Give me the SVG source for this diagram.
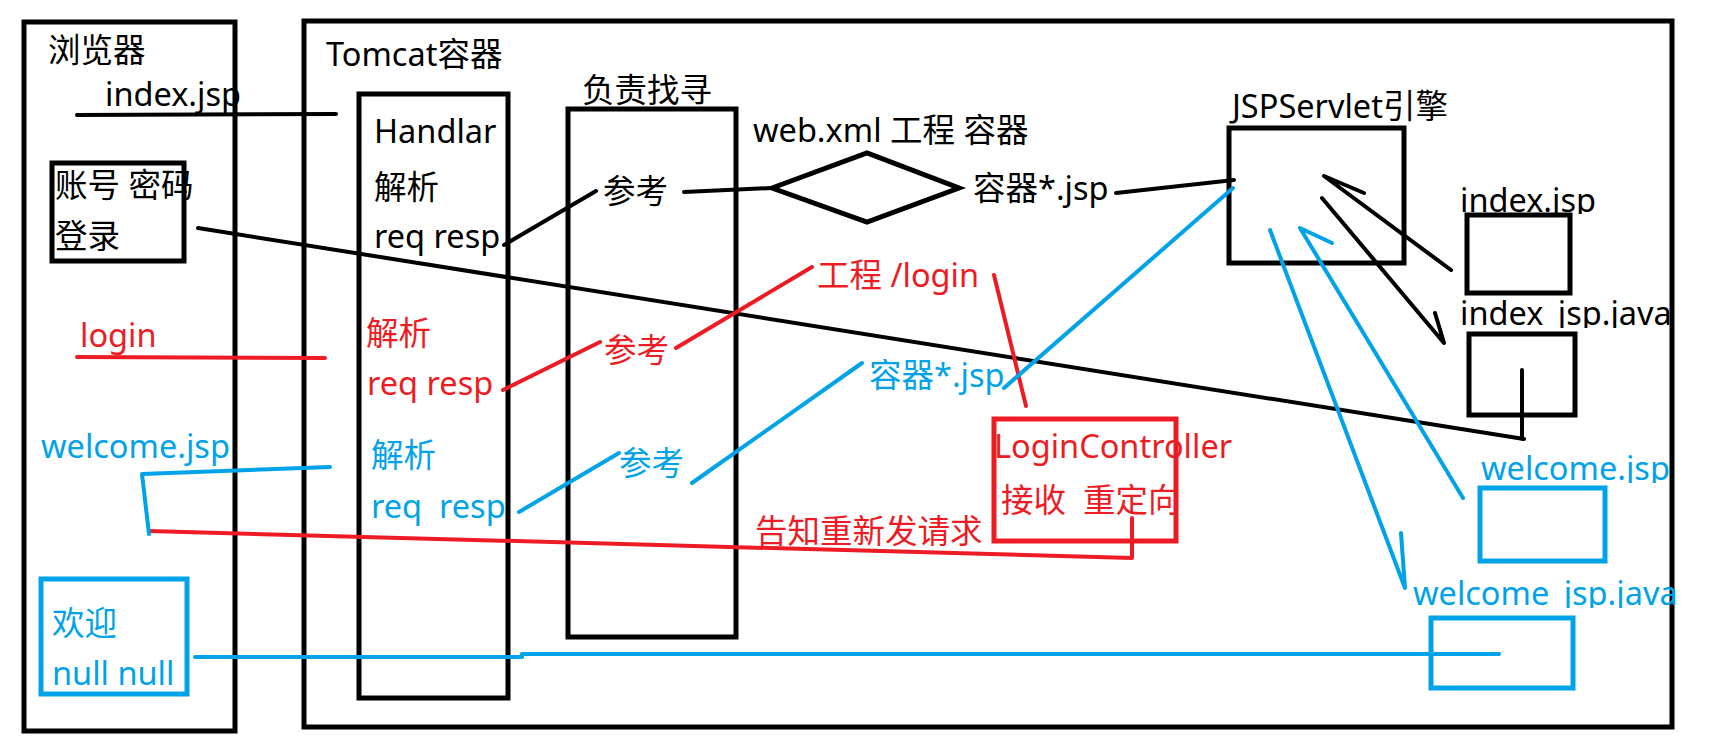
<svg xmlns="http://www.w3.org/2000/svg" width="1709" height="749" viewBox="0 0 1709 749">
<style>
text{font-family:"Noto Sans","Noto Sans CJK SC",sans-serif;font-size:32.5px}
.k{fill:#000}.r{fill:#ED1C24}.b{fill:#00A2E8}
.bx{fill:none;stroke:#000;stroke-width:5}
.rb{fill:none;stroke:#ED1C24;stroke-width:5}
.bb{fill:none;stroke:#00A2E8;stroke-width:5}
.lk{fill:none;stroke:#000;stroke-width:4;stroke-linecap:round;stroke-linejoin:round}
.lr{fill:none;stroke:#ED1C24;stroke-width:4;stroke-linecap:round;stroke-linejoin:round}
.lb{fill:none;stroke:#00A2E8;stroke-width:4;stroke-linecap:round;stroke-linejoin:round}
</style>
<defs>
<clipPath id="c1"><rect x="1400" y="180" width="300" height="34"/></clipPath>
<clipPath id="c2"><rect x="1400" y="290" width="300" height="38"/></clipPath>
<clipPath id="c3"><rect x="1400" y="440" width="300" height="43"/></clipPath>
<clipPath id="c4"><rect x="1380" y="570" width="320" height="38"/></clipPath>
</defs>
<rect width="1709" height="749" fill="#fff"/>

<g id="browser">
<rect class="bx" x="24" y="22" width="211" height="709"/>
<text class="k" x="48" y="62">浏览器</text>
<text class="k" x="105" y="106">index.jsp</text>
</g>
<g id="login-form">
<rect class="bx" x="52" y="163" width="132" height="98"/>
<text class="k" x="55" y="197">账号 密码</text>
<text class="k" x="55" y="248">登录</text>
</g>
<text class="r" x="80" y="347">login</text>
<text class="b" x="41" y="458">welcome.jsp</text>
<g id="welcome-page">
<rect class="bb" x="41" y="579" width="146" height="115"/>
<text class="b" x="52" y="635">欢迎</text>
<text class="b" x="52" y="685">null null</text>
</g>

<g id="tomcat">
<rect class="bx" x="304" y="21" width="1368" height="706"/>
<text class="k" x="326" y="66">Tomcat容器</text>
</g>
<g id="handlar">
<rect class="bx" x="359" y="94" width="149" height="604"/>
<text class="k" x="374" y="143">Handlar</text>
<text class="k" x="374" y="199">解析</text>
<text class="k" x="374" y="248">req resp</text>
<text class="r" x="366" y="345">解析</text>
<text class="r" x="367" y="395">req resp</text>
<text class="b" x="371" y="467">解析</text>
<text class="b" x="371" y="518" xml:space="preserve">req  resp</text>
</g>
<g id="finder">
<text class="k" x="582" y="102">负责找寻</text>
<rect class="bx" x="568" y="109" width="168" height="528"/>
<text class="k" x="603" y="203">参考</text>
<text class="r" x="604" y="362">参考</text>
<text class="b" x="619" y="475">参考</text>
</g>
<g id="webxml">
<text class="k" x="753" y="142">web.xml 工程 容器</text>
<polygon class="bx" points="772,188 867,153 959,188 867,222"/>
</g>
<text class="k" x="973" y="200">容器*.jsp</text>
<text class="r" x="817" y="287">工程 /login</text>
<text class="b" x="869" y="387">容器*.jsp</text>
<text class="r" x="755" y="543">告知重新发请求</text>
<g id="login-controller">
<rect class="rb" x="994" y="419" width="182" height="122"/>
<text class="r" x="994" y="458">LoginController</text>
<text class="r" x="1001" y="512" xml:space="preserve">接收  重定向</text>
</g>
<g id="jsp-engine">
<text class="k" x="1232" y="118">JSPServlet引擎</text>
<rect class="bx" x="1229" y="128" width="175" height="135"/>
</g>
<g id="index-jsp">
<text class="k" x="1460" y="212" clip-path="url(#c1)">index.jsp</text>
<rect class="bx" x="1467" y="215" width="103" height="78"/>
</g>
<g id="index-jsp-java">
<text class="k" x="1460" y="325" clip-path="url(#c2)">index_jsp.java</text>
<rect class="bx" x="1469" y="334" width="106" height="81"/>
</g>
<g id="welcome-jsp">
<text class="b" x="1481" y="480" clip-path="url(#c3)">welcome.jsp</text>
<rect class="bb" x="1480" y="488" width="125" height="73"/>
</g>
<g id="welcome-jsp-java">
<text class="b" x="1413" y="605" clip-path="url(#c4)">welcome_jsp.java</text>
<rect class="bb" x="1431" y="618" width="142" height="70"/>
</g>

<g id="connectors">
<path class="lk" d="M77,115 L336,114"/>
<path class="lk" d="M198,228 L1524,439 M1522,370 L1522,439"/>
<path class="lk" d="M504,245 L596,191"/>
<path class="lk" d="M684,192 L772,188"/>
<path class="lk" d="M1116,193 L1234,180"/>
<path class="lk" d="M1451,270 L1324,176 L1364,193"/>
<path class="lk" d="M1322,198 L1444,343 L1435,313"/>
<path class="lr" d="M77,357 L325,358"/>
<path class="lr" d="M503,390 L600,342"/>
<path class="lr" d="M676,348 L812,267"/>
<path class="lr" d="M994,275 L1026,406"/>
<path class="lr" d="M149,531 L1132,558 L1132,518"/>
<path class="lb" d="M330,467 L142,474 L149,534"/>
<path class="lb" d="M519,512 L619,453"/>
<path class="lb" d="M692,483 L862,363"/>
<path class="lb" d="M1004,388 L1233,188"/>
<path class="lb" d="M1270,230 L1405,588 L1401,533"/>
<path class="lb" d="M1463,498 L1300,228 L1332,243"/>
<path class="lb" d="M195,657 L522,657 L522,654 L1499,654"/>
</g>
</svg>
